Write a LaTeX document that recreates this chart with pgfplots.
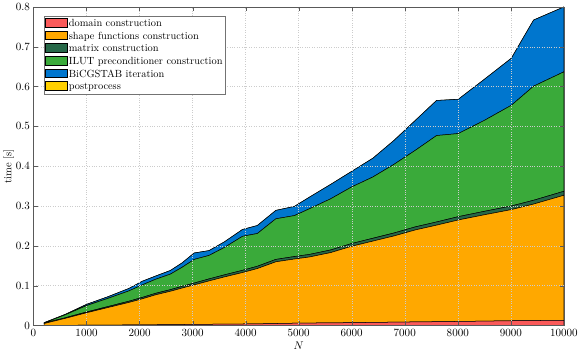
\documentclass[border=0pt]{standalone}
\usepackage{pgfplots}
\usepackage{pgfplotstable}
\pgfplotsset{compat=1.18}

\definecolor{cdomain}{RGB}{250,90,90}
\definecolor{cshape}{RGB}{255,168,0}
\definecolor{cmatrix}{RGB}{38,104,72}
\definecolor{cilut}{RGB}{58,170,58}
\definecolor{cbicg}{RGB}{0,118,206}
\definecolor{cpost}{RGB}{255,208,0}

% time per stage (s), stacked
\pgfplotstableread{
N     dom    shape  mat    ilut   bicg   post
200   0.0002 0.0048 0.0010 0.0005 0.0005 0.0002
600   0.0005 0.0175 0.0015 0.0075 0.0010 0.0002
1000  0.0008 0.0312 0.0020 0.0160 0.0030 0.0002
1400  0.0011 0.0439 0.0025 0.0205 0.0040 0.0002
1800  0.0014 0.0566 0.0030 0.0260 0.0060 0.0002
2050  0.0016 0.0654 0.0035 0.0315 0.0090 0.0002
2300  0.0019 0.0751 0.0037 0.0353 0.0080 0.0002
2580  0.0022 0.0838 0.0040 0.0390 0.0090 0.0002
2800  0.0025 0.0915 0.0043 0.0477 0.0110 0.0002
3030  0.0028 0.0992 0.0046 0.0594 0.0160 0.0002
3310  0.0031 0.1089 0.0050 0.0590 0.0120 0.0002
3600  0.0035 0.1185 0.0052 0.0688 0.0140 0.0002
3940  0.0038 0.1292 0.0055 0.0855 0.0170 0.0002
4220  0.0042 0.1388 0.0057 0.0823 0.0200 0.0002
4570  0.0050 0.1550 0.0060 0.1020 0.0210 0.0002
4920  0.0058 0.1612 0.0062 0.1028 0.0230 0.0002
5200  0.0062 0.1658 0.0064 0.1146 0.0290 0.0002
5600  0.0066 0.1764 0.0066 0.1284 0.0360 0.0002
6000  0.0072 0.1918 0.0069 0.1421 0.0390 0.0002
6400  0.0078 0.2042 0.0071 0.1539 0.0470 0.0002
6800  0.0084 0.2166 0.0074 0.1726 0.0600 0.0002
7200  0.0090 0.2310 0.0077 0.1923 0.0750 0.0002
7600  0.0096 0.2424 0.0080 0.2170 0.0880 0.0002
8010  0.0102 0.2548 0.0083 0.2087 0.0860 0.0002
8500  0.0110 0.2670 0.0087 0.2283 0.1030 0.0002
9010  0.0120 0.2790 0.0091 0.2529 0.1180 0.0002
9430  0.0125 0.2925 0.0095 0.2865 0.1660 0.0002
10000 0.0130 0.3140 0.0100 0.3000 0.1628 0.0002
}\timing

\begin{document}
\begin{tikzpicture}
\begin{axis}[
    scale only axis,
    width=526pt, height=316pt,
    xmin=0, xmax=10000,
    ymin=0, ymax=0.8,
    xtick={0,1000,...,10000},
    ytick={0,0.1,...,0.8},
    scaled x ticks=false,
    x tick label style={/pgf/number format/set thousands separator={}},
    xlabel={$N$},
    ylabel={time [s]},
    xlabel style={yshift=1pt},
    ylabel style={yshift=-5pt},
    tick label style={font=\fontsize{10.5}{12}\selectfont},
    label style={font=\fontsize{10.5}{12}\selectfont},
    tick align=inside,
    major tick length=4pt,
    axis line style={draw=black!65},
    tick style={black!65},
    xmajorgrids, ymajorgrids,
    grid style={dotted, black!20},
    axis on top,
    stack plots=y,
    legend image code/.code={
        \draw[#1] (0cm,-0.12cm) rectangle (0.75cm,0.19cm);},
    legend cell align=left,
    legend style={at={(0.019,0.972)}, anchor=north west,
        font=\fontsize{10.3}{12}\selectfont,
        draw=black!55, row sep=0pt, inner xsep=1.5pt, inner ysep=1pt,
        nodes={inner xsep=1.5pt}},
    every axis plot/.append style={draw=black, line width=0.5pt},
]
\addplot[fill=cdomain] table[x=N, y=dom] {\timing} \closedcycle;
\addlegendentry{domain construction}
\addplot[fill=cshape] table[x=N, y=shape] {\timing} \closedcycle;
\addlegendentry{shape functions construction}
\addplot[fill=cmatrix] table[x=N, y=mat] {\timing} \closedcycle;
\addlegendentry{matrix construction}
\addplot[fill=cilut] table[x=N, y=ilut] {\timing} \closedcycle;
\addlegendentry{ILUT preconditioner construction}
\addplot[fill=cbicg] table[x=N, y=bicg] {\timing} \closedcycle;
\addlegendentry{BiCGSTAB iteration}
\addplot[fill=cpost] table[x=N, y=post] {\timing} \closedcycle;
\addlegendentry{postprocess}
\end{axis}
\end{tikzpicture}
\end{document}
